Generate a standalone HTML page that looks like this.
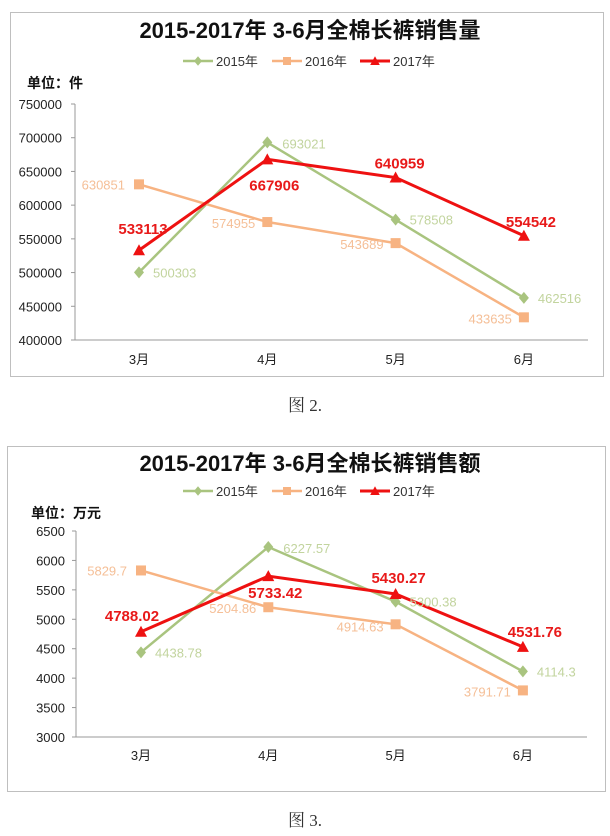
<!DOCTYPE html>
<html><head><meta charset="utf-8">
<style>
body{margin:0;background:#fff;width:610px;height:836px;overflow:hidden;font-family:"Liberation Sans","Noto Sans CJK SC",sans-serif;}
svg{position:absolute;left:0;top:0}
</style></head>
<body>
<svg id="s" width="610" height="836" xmlns="http://www.w3.org/2000/svg">
<rect x="10.5" y="12.5" width="593" height="364" fill="#fff" stroke="#bfbfbf"/>
<rect x="7.5" y="446.5" width="598" height="345" fill="#fff" stroke="#bfbfbf"/>
<text x="305" y="411" font-size="17" text-anchor="middle" fill="#333" font-family="'Liberation Serif','Noto Serif CJK SC',serif">图 2.</text>
<text x="305" y="826" font-size="17" text-anchor="middle" fill="#333" font-family="'Liberation Serif','Noto Serif CJK SC',serif">图 3.</text>
</svg>
<script>
const categories=["3月","4月","5月","6月"];
const seriesNames=["2015年","2016年","2017年"];
const qty2015=[500303,693021,578508,462516];
const qty2016=[630851,574955,543689,433635];
const qty2017=[533113,667906,640959,554542];
const qtyTicks=[400000,450000,500000,550000,600000,650000,700000,750000];
const amt2015=[4438.78,6227.57,5300.38,4114.3];
const amt2016=[5829.7,5204.86,4914.63,3791.71];
const amt2017=[4788.02,5733.42,5430.27,4531.76];
const amtTicks=[3000,3500,4000,4500,5000,5500,6000,6500];

const NS="http://www.w3.org/2000/svg";
const svg=document.getElementById('s');
function mk(tag,attrs,txt){const e=document.createElementNS(NS,tag);for(const k in attrs)e.setAttribute(k,attrs[k]);if(txt!==undefined)e.textContent=txt;return e;}
const colors=["#a9c47f","#f7b382","#ee1111"];
const labelColors=["#c2d49e","#f5bf97","#e81a1a"];

function drawChart(cfg){
  const g=mk('g',{});
  
  
  svg.appendChild(g);
  const yMin=cfg.ticks[0],yMax=cfg.ticks[cfg.ticks.length-1];
  const y=v=>cfg.yBot-(v-yMin)/(yMax-yMin)*(cfg.yBot-cfg.yTop);
  const x=i=>cfg.xs0+i*cfg.xStep;
  let t=mk('text',{x:310,y:cfg.titleY,'font-size':22,'font-weight':'bold','text-anchor':'middle',fill:'#111'},cfg.title);
  g.appendChild(t);
  t=mk('text',{x:cfg.unitX,y:cfg.unitY,'font-size':14,'font-weight':'bold',fill:'#111'},cfg.unit);
  g.appendChild(t);
  let a=mk('line',{x1:cfg.axX,y1:cfg.yTop,x2:cfg.axX,y2:cfg.yBot,stroke:'#999'});
  g.appendChild(a);
  a=mk('line',{x1:cfg.axX,y1:cfg.yBot,x2:cfg.axR,y2:cfg.yBot,stroke:'#999'});
  g.appendChild(a);
  cfg.ticks.forEach(v=>{
    const tk=mk('line',{x1:cfg.axX-4,y1:y(v),x2:cfg.axX,y2:y(v),stroke:'#999'});
    g.appendChild(tk);
    const tl=mk('text',{x:cfg.tickX,y:y(v)+5,'font-size':13,'text-anchor':'end',fill:'#222'},String(v));
    g.appendChild(tl);
  });
  categories.forEach((c,i)=>{
    const tl=mk('text',{x:x(i),y:cfg.xLabY,'font-size':13,'text-anchor':'middle',fill:'#222'},c);
    g.appendChild(tl);
  });
  const lx=[183,272,360];
  seriesNames.forEach((n,si)=>{
    const lg=mk('g',{});
    lg.appendChild(mk('line',{x1:lx[si],y1:cfg.legY,x2:lx[si]+30,y2:cfg.legY,stroke:colors[si],'stroke-width':si==2?3:2.5}));
    lg.appendChild(marker(si,lx[si]+15,cfg.legY,0.8));
    lg.appendChild(mk('text',{x:lx[si]+33,y:cfg.legY+5,'font-size':13,fill:'#333'},n));
    g.appendChild(lg);
  });
  cfg.series.forEach((vals,si)=>{
    const pts=vals.map((v,i)=>x(i)+','+y(v)).join(' ');
    const pl=mk('polyline',{points:pts,fill:'none',stroke:colors[si],'stroke-width':si==2?3:2.5});
    g.appendChild(pl);
  });
  cfg.series.forEach((vals,si)=>{
    vals.forEach((v,i)=>{
      const m=marker(si,x(i),y(v),1);
      
      
      g.appendChild(m);
      const o=cfg.offs[si][i];
      const lb=mk('text',{x:x(i)+o[0],y:y(v)+o[1]+5,'font-size':si==2?15:13,'font-weight':si==2?'bold':'normal','text-anchor':o[2],fill:labelColors[si]},String(v));
      
      g.appendChild(lb);
    });
  });
}
function marker(si,cx,cy,s){
  if(si==0)return mk('polygon',{points:`${cx},${cy-6*s} ${cx+5*s},${cy} ${cx},${cy+6*s} ${cx-5*s},${cy}`,fill:colors[0]});
  if(si==1)return mk('rect',{x:cx-5*s,y:cy-5*s,width:10*s,height:10*s,fill:colors[1]});
  return mk('polygon',{points:`${cx},${cy-6*s} ${cx+6*s},${cy+5*s} ${cx-6*s},${cy+5*s}`,fill:colors[2]});
}
drawChart({id:'sales-volume-chart',title:'2015-2017年  3-6月全棉长裤销售量',unit:'单位：件',titleY:38,legY:61,unitX:27,unitY:88,
  ticks:qtyTicks,yTop:104,yBot:340,axX:75,axR:588,tickX:62,xs0:139,xStep:128.3,xLabY:364,
  series:[qty2015,qty2016,qty2017],
  offs:[[[14,0,'start'],[15,1,'start'],[14,0,'start'],[14,0,'start']],
        [[-14,0,'end'],[-12,1,'end'],[-12,1,'end'],[-12,1,'end']],
        [[4,-21,'middle'],[7,26,'middle'],[4,-14,'middle'],[7,-14,'middle']]]});
drawChart({id:'sales-amount-chart',title:'2015-2017年  3-6月全棉长裤销售额',unit:'单位：万元',titleY:471,legY:491,unitX:31,unitY:518,
  ticks:amtTicks,yTop:531,yBot:737,axX:76,axR:587,tickX:65,xs0:141,xStep:127.3,xLabY:760,
  series:[amt2015,amt2016,amt2017],
  offs:[[[14,0,'start'],[15,1,'start'],[14,0,'start'],[14,0,'start']],
        [[-14,0,'end'],[-12,1,'end'],[-12,2,'end'],[-12,1,'end']],
        [[-9,-16,'middle'],[7,17,'middle'],[3,-16,'middle'],[12,-15,'middle']]]});
</script>
</body></html>
